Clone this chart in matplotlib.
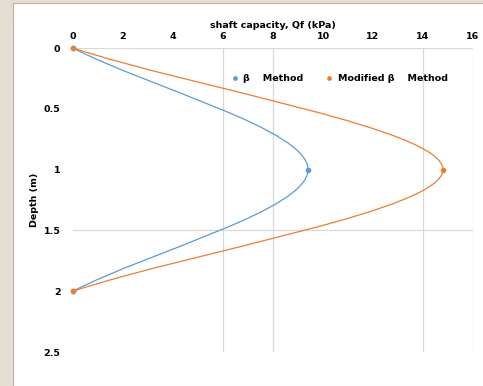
import numpy as np
import matplotlib
matplotlib.use("Agg")
import matplotlib.pyplot as plt
from matplotlib.path import Path
from matplotlib.patches import PathPatch, Rectangle

# data (Qf in kPa vs depth in m)
depth = [0, 1, 2]
qf_beta = [0, 9.4, 0]
qf_mod = [0, 14.8, 0]
xticks = [0, 2, 4, 6, 8, 10, 12, 14, 16]
yticks = [0, 0.5, 1, 1.5, 2, 2.5]

BLUE = "#5B9BD5"
ORANGE = "#ED7D31"
plt.rcParams["font.family"] = ["DejaVu Sans"]
FS = 6.8


def smooth_path(xs, ys):
    # Excel-style smoothed line: Catmull-Rom as cubic Bezier
    pts = np.column_stack([xs, ys]).astype(float)
    n = len(pts)
    verts = [pts[0]]
    codes = [Path.MOVETO]
    for i in range(n - 1):
        p0 = pts[max(i - 1, 0)]
        p1 = pts[i]
        p2 = pts[i + 1]
        p3 = pts[min(i + 2, n - 1)]
        c1 = p1 + (p2 - p0) / 6 if i > 0 else p1 + (p2 - p1) / 3
        c2 = p2 - (p3 - p1) / 6 if i + 2 < n else p2 - (p2 - p1) / 3
        verts += [c1, c2, p2]
        codes += [Path.CURVE4] * 3
    return Path(verts, codes)


fig = plt.figure(figsize=(4.83, 3.86), dpi=100)
fig.patch.set_facecolor("#E4DED4")
bg = Rectangle((13 / 483, 0), 1, 1 - 3 / 386, transform=fig.transFigure,
               facecolor="white", edgecolor="#B8B2A8", lw=0.8, zorder=-5)
fig.add_artist(bg)

ax = fig.add_axes([73 / 483, 1 - 352 / 386, 400 / 483, 304 / 386])
ax.set_facecolor("none")
ax.set_xlim(0, 16)
ax.set_ylim(2.5, 0)
ax.xaxis.tick_top()
ax.xaxis.set_label_position("top")
ax.set_xticks(xticks)
ax.set_yticks(yticks)
ax.set_xticklabels([str(t) for t in xticks])
ax.set_yticklabels([f"{t:g}" for t in yticks])
ax.tick_params(axis="x", length=0, labelsize=FS, pad=5)
ax.tick_params(axis="y", length=0, labelsize=FS, pad=9)
for lab in ax.get_xticklabels() + ax.get_yticklabels():
    lab.set_fontweight("bold")
for s in ax.spines.values():
    s.set_visible(False)

# only the grid lines that show in the picture
for xv in [6, 8, 14, 16]:
    ax.axvline(xv, color="#D9D9D9", lw=0.9, zorder=0)
for yv in [0, 1.5]:
    ax.axhline(yv, color="#D9D9D9", lw=0.9, zorder=0)

for qf, col, lab in [(qf_beta, BLUE, "β    Method"), (qf_mod, ORANGE, "Modified β    Method")]:
    ax.add_patch(PathPatch(smooth_path(qf, depth), facecolor="none", edgecolor=col, lw=0.9, zorder=3))
    ax.plot(qf, depth, "o", color=col, ms=3, label=lab, zorder=4, clip_on=False)

ax.set_xlabel("shaft capacity, Qf (kPa)", fontsize=FS, fontweight="bold", labelpad=3)
ax.set_ylabel("Depth (m)", fontsize=FS, fontweight="bold", labelpad=3)
leg = ax.legend(loc="center", bbox_to_anchor=(0.665, 0.90), ncol=2, frameon=False,
                fontsize=FS, handletextpad=0.4, columnspacing=2.2, markerscale=0.8,
                handlelength=1.0)
for t in leg.get_texts():
    t.set_fontweight("bold")

fig.savefig("out.png", dpi=100)
